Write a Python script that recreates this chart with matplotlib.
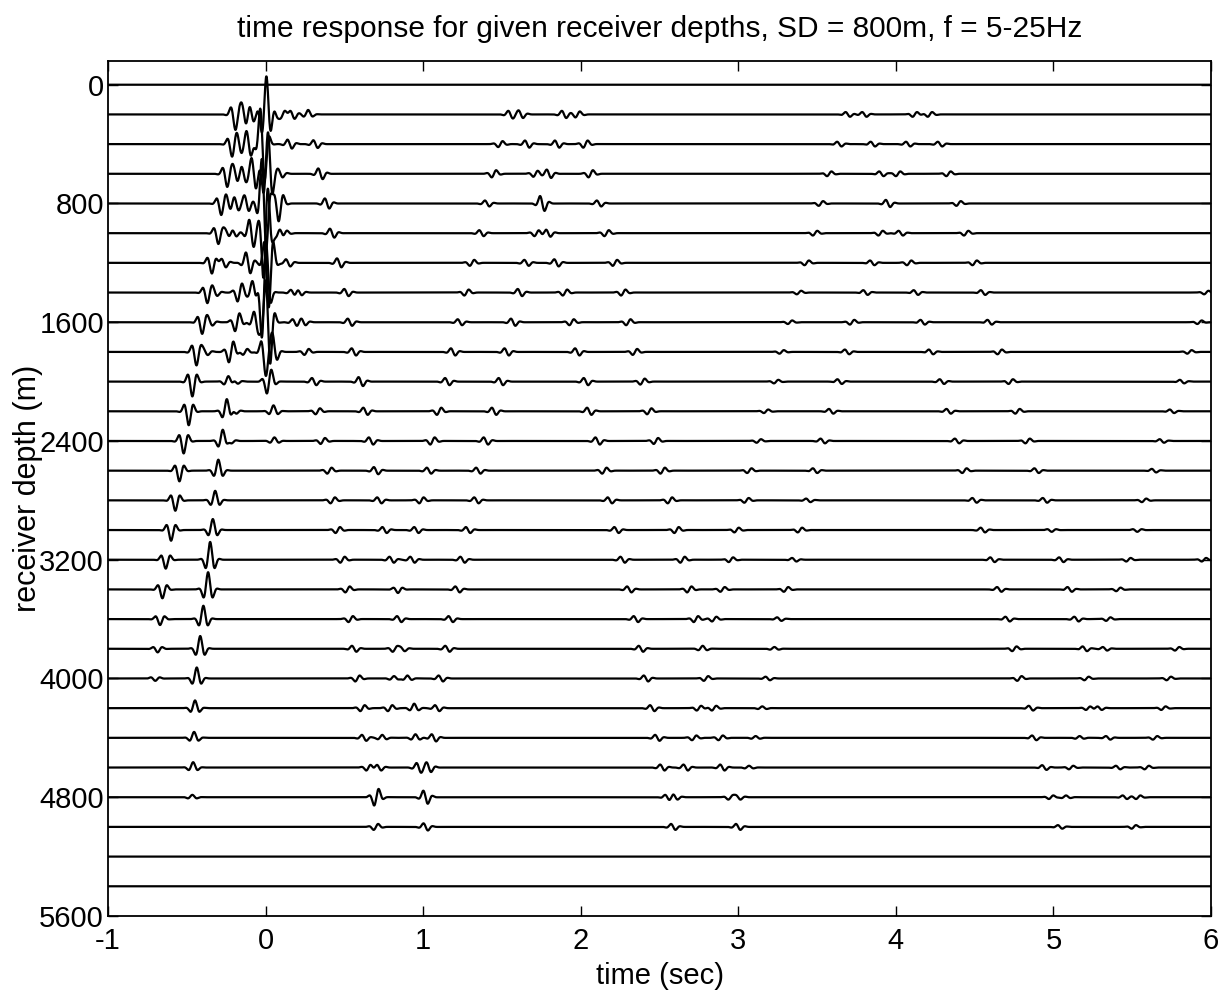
import numpy as np
import matplotlib.pyplot as plt

plt.rcParams['font.family'] = ['Liberation Sans', 'DejaVu Sans']
plt.rcParams['axes.unicode_minus'] = False

# receiver depths (m), one trace each
depths = [0, 200, 400, 600, 800, 1000, 1200, 1400, 1600, 1800, 2000, 2200, 2400, 2600,
          2800, 3000, 3200, 3400, 3600, 3800, 4000, 4200, 4400, 4600, 4800, 5000, 5200, 5400]

# arrivals: (time s, amplitude in trace spacings, phase deg)
d0000 = []
d0200 = [(-0.192, -0.5, 0), (-0.135, -0.3, 90), (-0.09, -0.25, 90), (0.005, 1.3, 0), (0.06, -0.15, 90),
         (0.11, 0.15, 90), (0.17, -0.15, 90), (0.27, 0.15, 0), (1.554, -0.12, 90), (1.62, -0.12, 90),
         (1.894, -0.12, 90), (1.98, 0.1, 90), (3.695, -0.08, 90), (3.80, -0.08, 90), (4.12, 0.08, 90),
         (4.216, 0.08, 90)]
d0400 = [(-0.213, -0.38, 0), (-0.168, -0.2, 90), (-0.107, -0.4, 90), (-0.02, -1.2, 90), (0.153, -0.15, 90),
         (0.317, -0.13, 90), (1.49, 0.1, 90), (1.66, -0.12, 90), (1.85, -0.12, 90), (2.03, 0.12, 90),
         (3.641, -0.08, 90), (3.854, -0.08, 90), (4.078, -0.08, 90), (4.28, -0.08, 90)]
d0600 = [(-0.244, -0.42, 0), (-0.19, -0.2, 90), (-0.14, -0.2, 90), (-0.075, -0.5, 90), (0.015, 1.4, 0),
         (0.094, -0.12, 90), (0.348, -0.18, 90), (1.449, 0.12, 90), (1.713, 0.1, 90), (1.798, -0.14, 90),
         (2.063, 0.12, 90), (3.577, 0.08, 90), (3.908, -0.08, 90), (4.014, 0.08, 90), (4.334, 0.08, 90)]
d0800 = [(-0.282, -0.36, 0), (-0.234, -0.15, 90), (-0.187, -0.2, 90), (-0.12, -0.25, 90), (-0.01, -1.5, 90),
         (0.083, -0.6, 0), (0.39, -0.17, 90), (1.406, -0.1, 90), (1.756, -0.25, 90), (2.116, -0.1, 90),
         (3.524, 0.08, 90), (3.95, -0.12, 90), (4.398, 0.08, 90)]
d1000 = [(-0.30, -0.36, 0), (-0.24, -0.12, 90), (-0.2, -0.12, 90), (-0.09, -0.45, 90), (0.0, 1.5, 90),
         (0.08, 0.15, 90), (0.12, 0.1, 90), (0.422, -0.15, 90), (1.37, -0.1, 90), (1.72, 0.1, 90),
         (1.794, -0.12, 90), (2.164, 0.1, 90), (3.487, 0.08, 90), (3.903, 0.08, 90), (4.031, -0.08, 90),
         (4.446, 0.08, 90)]
d1200 = [(-0.341, -0.36, 0), (-0.266, -0.15, 90), (-0.111, -0.35, 90), (0.02, -1.5, 0), (0.143, -0.12, 90),
         (0.467, -0.15, 90), (1.31, 0.1, 90), (1.656, -0.1, 90), (1.846, -0.12, 90), (2.217, 0.1, 90),
         (3.434, 0.08, 90), (3.85, -0.08, 90), (4.084, 0.08, 90), (4.5, 0.08, 90)]
d1400 = [(-0.37, -0.34, 0), (-0.32, -0.1, 90), (-0.164, 0.3, 90), (-0.07, -0.4, 90), (-0.01, 1.6, 90),
         (0.175, -0.1, 90), (0.215, -0.1, 90), (0.513, -0.12, 90), (1.275, 0.1, 90), (1.614, -0.12, 90),
         (1.90, 0.1, 90), (2.27, 0.1, 90), (3.385, 0.06, 90), (3.807, -0.08, 90), (4.127, -0.08, 90),
         (4.553, -0.08, 90), (5.97, 0.06, 90)]
d1600 = [(-0.403, -0.38, 0), (-0.35, -0.1, 90), (-0.18, 0.3, 90), (-0.06, -0.35, 90), (0.015, -1.4, 90),
         (0.185, -0.1, 90), (0.24, -0.1, 90), (0.535, -0.12, 90), (1.233, -0.1, 90), (1.571, -0.12, 90),
         (1.942, 0.1, 90), (2.302, 0.1, 90), (3.328, 0.06, 90), (3.722, 0.08, 90), (4.17, -0.08, 90),
         (4.595, -0.08, 90), (5.927, 0.06, 90)]
d1800 = [(-0.439, -0.45, 0), (-0.38, -0.1, 90), (-0.219, 0.35, 90), (-0.13, 0.1, 90), (0.0, -0.75, 0),
         (0.045, 0.55, 0), (0.26, 0.1, 90), (0.56, -0.12, 90), (1.19, -0.12, 90), (1.53, -0.12, 90),
         (1.978, -0.12, 90), (2.344, 0.1, 90), (3.275, 0.06, 90), (3.69, -0.08, 90), (4.223, -0.08, 90),
         (4.659, 0.08, 90), (5.863, 0.06, 90)]
d2000 = [(-0.465, -0.5, 0), (-0.236, 0.2, 0), (-0.19, -0.08, 90), (0.022, 0.4, 90), (0.308, -0.12, 90),
         (0.604, -0.15, 90), (1.153, -0.12, 90), (1.493, -0.12, 90), (2.033, -0.12, 90), (2.392, 0.1, 90),
         (3.24, 0.06, 90), (3.643, -0.08, 90), (4.292, -0.08, 90), (4.729, 0.08, 90), (5.816, -0.06, 90)]
d2200 = [(-0.488, -0.47, 0), (-0.246, 0.43, 0), (-0.2, -0.1, 90), (0.05, 0.2, 0), (0.331, 0.1, 90),
         (0.634, -0.12, 90), (1.101, 0.12, 90), (1.45, -0.12, 90), (2.054, -0.12, 90), (2.435, 0.1, 90),
         (3.176, 0.06, 90), (3.589, -0.08, 90), (4.335, -0.08, 90), (4.772, 0.08, 90), (5.752, -0.06, 90)]
d2400 = [(-0.52, -0.42, 0), (-0.272, 0.4, 0), (-0.23, -0.1, 90), (0.056, 0.12, 0), (0.363, 0.1, 90),
         (0.669, -0.12, 90), (1.059, 0.12, 90), (1.398, -0.12, 90), (2.107, -0.12, 90), (2.477, 0.1, 90),
         (3.13, 0.06, 90), (3.536, -0.08, 90), (4.388, -0.08, 90), (4.836, 0.08, 90), (5.688, -0.06, 90)]
d2600 = [(-0.547, -0.36, 0), (-0.30, 0.37, 0), (0.405, 0.1, 90), (0.701, -0.12, 90), (1.037, -0.1, 90),
         (1.35, -0.1, 90), (2.15, 0.1, 90), (2.52, 0.1, 90), (3.07, 0.08, 90), (3.487, -0.08, 90),
         (4.435, 0.08, 90), (4.893, -0.08, 90), (5.638, -0.06, 90)]
d2800 = [(-0.573, -0.35, 0), (-0.32, 0.32, 0), (0.426, 0.1, 90), (0.722, -0.1, 90), (0.989, 0.1, 90),
         (1.338, -0.1, 90), (2.185, -0.1, 90), (2.566, 0.1, 90), (3.052, 0.08, 90), (3.444, -0.06, 90),
         (4.499, -0.08, 90), (4.946, -0.08, 90), (5.575, 0.06, 90)]
d3000 = [(-0.60, -0.36, 0), (-0.335, 0.37, 0), (0.458, 0.1, 90), (0.755, -0.1, 90), (0.957, -0.1, 90),
         (1.285, -0.1, 90), (2.227, -0.1, 90), (2.608, 0.1, 90), (2.989, 0.08, 90), (3.391, 0.08, 90),
         (4.552, -0.08, 90), (4.989, -0.06, 0), (5.532, -0.06, 0)]
d3200 = [(-0.634, -0.3, 0), (-0.352, 0.6, 0), (0.488, 0.1, 90), (0.80, -0.1, 90), (0.932, -0.1, 90),
         (1.25, -0.1, 90), (2.266, -0.1, 90), (2.646, 0.1, 90), (2.953, 0.08, 90), (3.355, -0.06, 90),
         (4.613, -0.08, 90), (5.05, -0.08, 90), (5.476, 0.06, 90), (5.955, 0.06, 90)]
d3400 = [(-0.655, -0.3, 0), (-0.365, 0.58, 0), (0.52, 0.1, 90), (0.84, -0.12, 0), (1.218, -0.1, 90),
         (2.308, -0.1, 90), (2.689, 0.1, 90), (2.9, 0.08, 90), (3.303, 0.08, 90), (4.656, -0.08, 90),
         (5.103, -0.08, 90), (5.412, 0.06, 90)]
d3600 = [(-0.67, -0.2, 0), (-0.395, 0.45, 0), (0.54, 0.1, 90), (0.848, -0.1, 90), (1.175, -0.1, 90),
         (2.35, -0.1, 90), (2.731, 0.1, 90), (2.847, 0.08, 90), (3.26, -0.06, 90), (4.709, -0.08, 90),
         (5.146, -0.08, 90), (5.348, 0.06, 90)]
d3800 = [(-0.685, -0.12, 0), (-0.415, 0.43, 0), (0.562, -0.1, 90), (0.82, 0.1, 90), (0.87, -0.08, 90),
         (1.154, -0.1, 90), (2.382, -0.1, 90), (2.774, 0.1, 0), (3.229, 0.06, 0), (4.752, 0.08, 90),
         (5.199, -0.08, 90), (5.327, -0.06, 90), (5.785, 0.06, 90)]
d4000 = [(-0.70, -0.08, 0), (-0.437, 0.37, 0), (0.583, 0.1, 90), (0.815, 0.08, 0), (0.9, 0.1, 0),
         (1.112, -0.1, 90), (2.414, -0.1, 90), (2.795, 0.08, 90), (3.187, -0.06, 90), (4.784, 0.08, 90),
         (5.21, 0.06, 90), (5.732, 0.06, 90)]
d4200 = [(-0.448, 0.26, 0), (0.615, 0.1, 90), (0.79, 0.1, 90), (0.943, 0.15, 0), (1.089, -0.1, 90),
         (2.454, -0.1, 90), (2.75, 0.08, 90), (2.846, 0.08, 90), (3.152, 0.06, 0), (4.857, -0.08, 90),
         (5.22, 0.06, 90), (5.293, -0.06, 90), (5.698, 0.06, 90)]
d4400 = [(-0.454, 0.2, 0), (0.625, -0.1, 90), (0.74, 0.1, 0), (0.951, 0.12, 0), (1.068, -0.12, 90),
         (2.486, -0.1, 90), (2.72, 0.08, 90), (2.888, 0.08, 90), (3.11, 0.06, 0), (4.878, -0.08, 90),
         (5.166, 0.06, 0), (5.347, -0.06, 90), (5.645, 0.06, 90)]
d4600 = [(-0.46, 0.18, 0), (0.653, 0.1, 90), (0.72, -0.1, 90), (0.972, -0.15, 90), (1.036, -0.15, 90),
         (2.518, -0.1, 90), (2.666, -0.1, 90), (2.899, -0.1, 90), (3.068, 0.06, 0), (4.942, -0.08, 90),
         (5.112, 0.06, 90), (5.41, -0.06, 90), (5.592, 0.06, 90)]
d4800 = [(-0.465, 0.08, 0), (0.703, 0.28, 90), (1.015, -0.22, 90), (2.55, -0.08, 90), (2.6, -0.08, 90),
         (2.95, 0.08, 90), (3.0, -0.08, 90), (4.985, 0.06, 90), (5.08, 0.06, 0), (5.453, -0.06, 90),
         (5.538, 0.06, 90)]
d5000 = [(0.70, 0.1, 90), (1.016, -0.12, 90), (2.587, -0.1, 90), (2.999, -0.1, 90), (5.042, -0.06, 90),
         (5.51, 0.06, 90)]
d5200 = []
d5400 = []

events = [d0000, d0200, d0400, d0600, d0800, d1000, d1200, d1400, d1600, d1800, d2000, d2200, d2400, d2600,
          d2800, d3000, d3200, d3400, d3600, d3800, d4000, d4200, d4400, d4600, d4800, d5000, d5200, d5400]

spacing = 200.0   # trace spacing in m, amplitude 1 = one spacing
f0 = 15.0         # wavelet centre frequency (Hz)
s0 = 0.025        # wavelet envelope width (s)

t = np.arange(-1.0, 6.0005, 0.002)
tau_ref = np.linspace(-0.2, 0.2, 4001)


def wavelet(tau, phase):
    return np.exp(-tau**2 / (2 * s0**2)) * np.cos(2 * np.pi * f0 * tau - np.radians(phase))


peak = {ph: np.abs(wavelet(tau_ref, ph)).max() for ph in (0, 90)}

fig = plt.figure(figsize=(12.25, 9.98), dpi=100)
ax = fig.add_axes([0.0882, 0.0822, 0.9004, 0.8567])

for d, ev in zip(depths, events):
    sig = np.zeros_like(t)
    for tc, a, ph in ev:
        sig += a * wavelet(t - tc, ph) / peak[ph]
    ax.plot(t, d - spacing * sig, color='k', lw=1.6)

ax.set_xlim(-1, 6)
ax.set_ylim(5600, -160)
ax.set_xticks(range(-1, 7))
ax.set_yticks(range(0, 5601, 800))
ax.tick_params(direction='in', top=True, right=True, length=7, width=1, labelsize=21)
ax.tick_params(axis='x', pad=8)
ax.tick_params(axis='y', pad=3)
for sp in ax.spines.values():
    sp.set_linewidth(1.3)

ax.set_xlabel('time (sec)', fontsize=21, labelpad=5)
ax.set_ylabel('receiver depth (m)', fontsize=22, labelpad=-3)
ax.set_title('time response for given receiver depths, SD = 800m, f = 5-25Hz', fontsize=21.5, pad=17)

fig.savefig('out.png', dpi=100)
